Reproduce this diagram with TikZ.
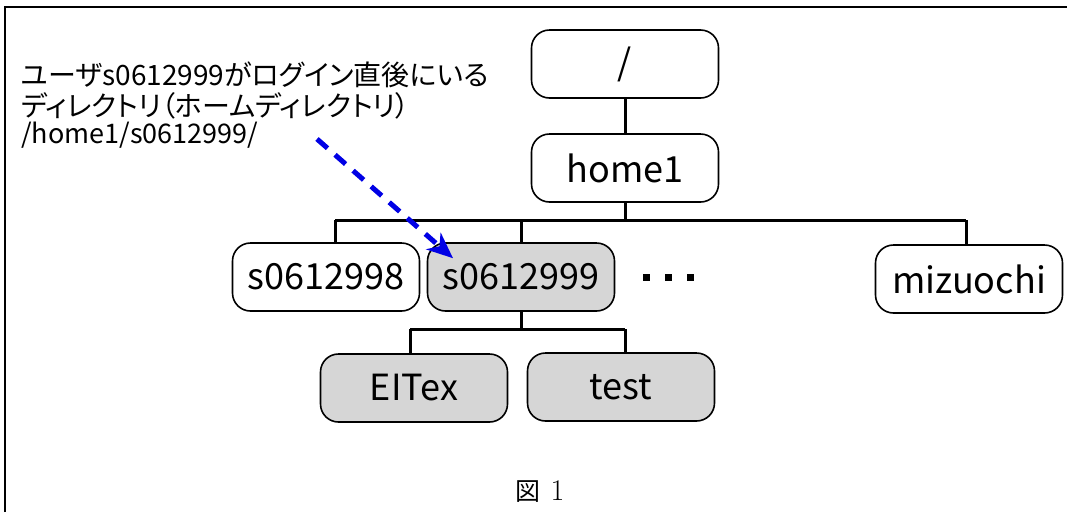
\documentclass[tikz,border=0pt]{standalone}
\usepackage{fontspec}
\newfontfamily\jp{Noto Sans CJK JP}
\newfontfamily\jpp[RawFeature=+palt]{Noto Sans CJK JP}
\usetikzlibrary{arrows.meta}
\begin{document}
\begin{tikzpicture}[x=1pt,y=-1pt,
  dirbox/.style={draw=black,line width=1.6pt,rounded corners=18pt,minimum width=187pt,minimum height=68pt,inner sep=0pt,font=\jp\fontsize{36}{42}\selectfont,fill=white},
  graybox/.style={dirbox,fill=black!16},
  conn/.style={line width=3pt},
  note/.style={anchor=west,inner sep=0pt,font=\jpp\fontsize{28}{32}\selectfont}
]
\useasboundingbox (0,0) rectangle (1067,512);
\draw[line width=2pt] (5,512) -- (5,7) -- (1067,7);

\node[dirbox] (root) at (625,64) {/};
\node[dirbox] (home) at (625,168) {home1};
\node[dirbox] (s8) at (326,277) {s0612998};
\node[graybox] (s9) at (521,277) {s0612999};
\node[dirbox] (miz) at (969,279) {mizuochi};
\node[graybox] (eit) at (414,388) {EITex};
\node[graybox] (tst) at (621,387) {test};
\node[inner sep=0pt] (dots) at (668,277) {\rule{7pt}{7pt}\hspace{15pt}\rule{7pt}{7pt}\hspace{15pt}\rule{7pt}{7pt}};

\coordinate (bar1) at (0,220);
\coordinate (bar2) at (0,329);

\draw[conn] (root.south) -- (home.north);
\draw[conn] (home.south) -- (home.south |- bar1);
\draw[conn] ([xshift=9pt]s8.north |- bar1) -- ([xshift=-3pt]miz.north |- bar1);
\draw[conn] ([xshift=9pt]s8.north) -- ([xshift=9pt]s8.north |- bar1);
\draw[conn] (s9.north) -- (s9.north |- bar1);
\draw[conn] ([xshift=-3pt]miz.north) -- ([xshift=-3pt]miz.north |- bar1);
\draw[conn] (s9.south) -- (s9.south |- bar2);
\draw[conn] ([xshift=-4pt]eit.north |- bar2) -- ([xshift=4pt]tst.north |- bar2);
\draw[conn] ([xshift=-4pt]eit.north) -- ([xshift=-4pt]eit.north |- bar2);
\draw[conn] ([xshift=4pt]tst.north) -- ([xshift=4pt]tst.north |- bar2);

\node[note] (l1) at (21,75) {ユーザs0612999がログイン直後にいる};
\node[note] (l2) at (21,106) {ディレクトリ（ホームディレクトリ）};
\node[note,font=\jp\fontsize{27}{30}\selectfont] (l3) at (21,135) {/home1/s0612999/};

\coordinate (arrstart) at (317,139);
\draw[blue!90!black,line width=5pt,dash pattern=on 14pt off 10pt,-{Stealth[length=26pt,width=22pt,inset=8pt]}] (arrstart) -- ([xshift=-68pt,yshift=-16pt]s9.north);

\node[inner sep=0pt] (cap) at (540,492) {{\jp\fontsize{25}{30}\selectfont 図}\hspace{10pt}{\fontsize{30}{34}\selectfont 1}};
\end{tikzpicture}
\end{document}
